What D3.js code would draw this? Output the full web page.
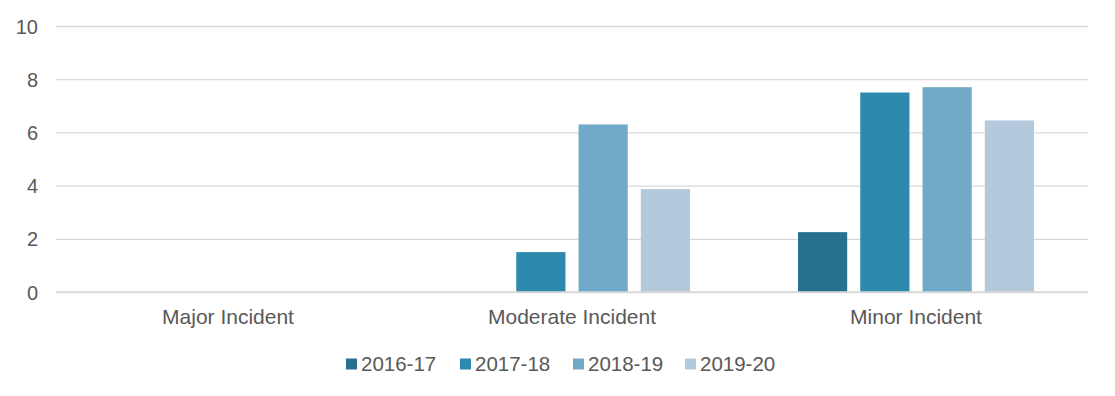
<!DOCTYPE html>
<html>
<head>
<meta charset="utf-8">
<script src="https://cdn.jsdelivr.net/npm/d3@7"></script>
<style>
  body { margin: 0; background: #fff; }
  svg text { font-family: "Liberation Sans", Arial, sans-serif; fill: #595959; }
</style>
</head>
<body>
<svg id="chart" width="1115" height="396"></svg>
<script>
const categories = ["Major Incident", "Moderate Incident", "Minor Incident"];
const seasons = ["2016-17", "2017-18", "2018-19", "2019-20"];
const colors = ["#26718f", "#2e89ae", "#71a9c8", "#b3cadd"];
// one array per season, values in category order
const v201617 = [0, 0, 2.25];
const v201718 = [0, 1.5, 7.5];
const v201819 = [0, 6.3, 7.7];
const v201920 = [0, 3.87, 6.45];
const yTicks = [0, 2, 4, 6, 8, 10];

const seriesVals = [v201617, v201718, v201819, v201920];

const margin = { top: 26, right: 27, bottom: 104, left: 56 };
const W = 1115, H = 396;
const width = W - margin.left - margin.right;
const height = H - margin.top - margin.bottom;

const svg = d3.select("#chart");
const g = svg.append("g").attr("transform", "translate(" + margin.left + "," + margin.top + ")");

const x0 = d3.scaleBand().domain(categories).range([0, width]).paddingInner(0).paddingOuter(0);
const x1 = d3.scaleBand().domain(seasons).range([54, x0.bandwidth() - 54]).paddingInner(0.21).paddingOuter(0);
const y = d3.scaleLinear().domain([0, 10]).range([height, 0]);

// gridlines + y labels
const yAxis = g.append("g")
  .call(d3.axisLeft(y).tickValues(yTicks).tickSize(-width).tickPadding(18));
yAxis.select(".domain").remove();
yAxis.selectAll(".tick line").attr("stroke", "#d9d9d9").attr("stroke-width", 1.3);
yAxis.selectAll(".tick text").style("font-size", "20px").attr("fill", "#595959").attr("dy", "0.35em");

// bars
const data = [];
categories.forEach((c, ci) => {
  seasons.forEach((s, si) => {
    data.push({ cat: c, season: s, idx: si, value: seriesVals[si][ci] });
  });
});

g.selectAll("rect.bar")
  .data(data.filter(d => d.value > 0))
  .enter()
  .append("rect")
  .attr("class", "bar")
  .attr("x", d => x0(d.cat) + x1(d.season))
  .attr("y", d => y(d.value))
  .attr("width", x1.bandwidth())
  .attr("height", d => height - y(d.value))
  .attr("fill", d => colors[d.idx]);

// x axis labels
const xAxis = g.append("g")
  .attr("transform", "translate(0," + height + ")")
  .call(d3.axisBottom(x0).tickSize(0).tickPadding(17));
xAxis.select(".domain").remove();
xAxis.selectAll(".tick text").style("font-size", "21px").attr("fill", "#595959");

// baseline redraw over bars
g.append("line").attr("x1", 0).attr("x2", width).attr("y1", height).attr("y2", height)
  .attr("stroke", "#d9d9d9").attr("stroke-width", 1.3);

// legend
const legendX = [346, 460, 573, 685];
const legend = svg.append("g").attr("class", "legend");
seasons.forEach((s, i) => {
  const lg = legend.append("g").attr("transform", "translate(" + legendX[i] + ",364)");
  lg.append("rect").attr("x", 0).attr("y", -5.5).attr("width", 11).attr("height", 11).attr("fill", colors[i]);
  lg.append("text").attr("x", 15).attr("y", 0).attr("dy", "0.35em").style("font-size", "20.5px").text(s);
});
</script>
</body>
</html>
